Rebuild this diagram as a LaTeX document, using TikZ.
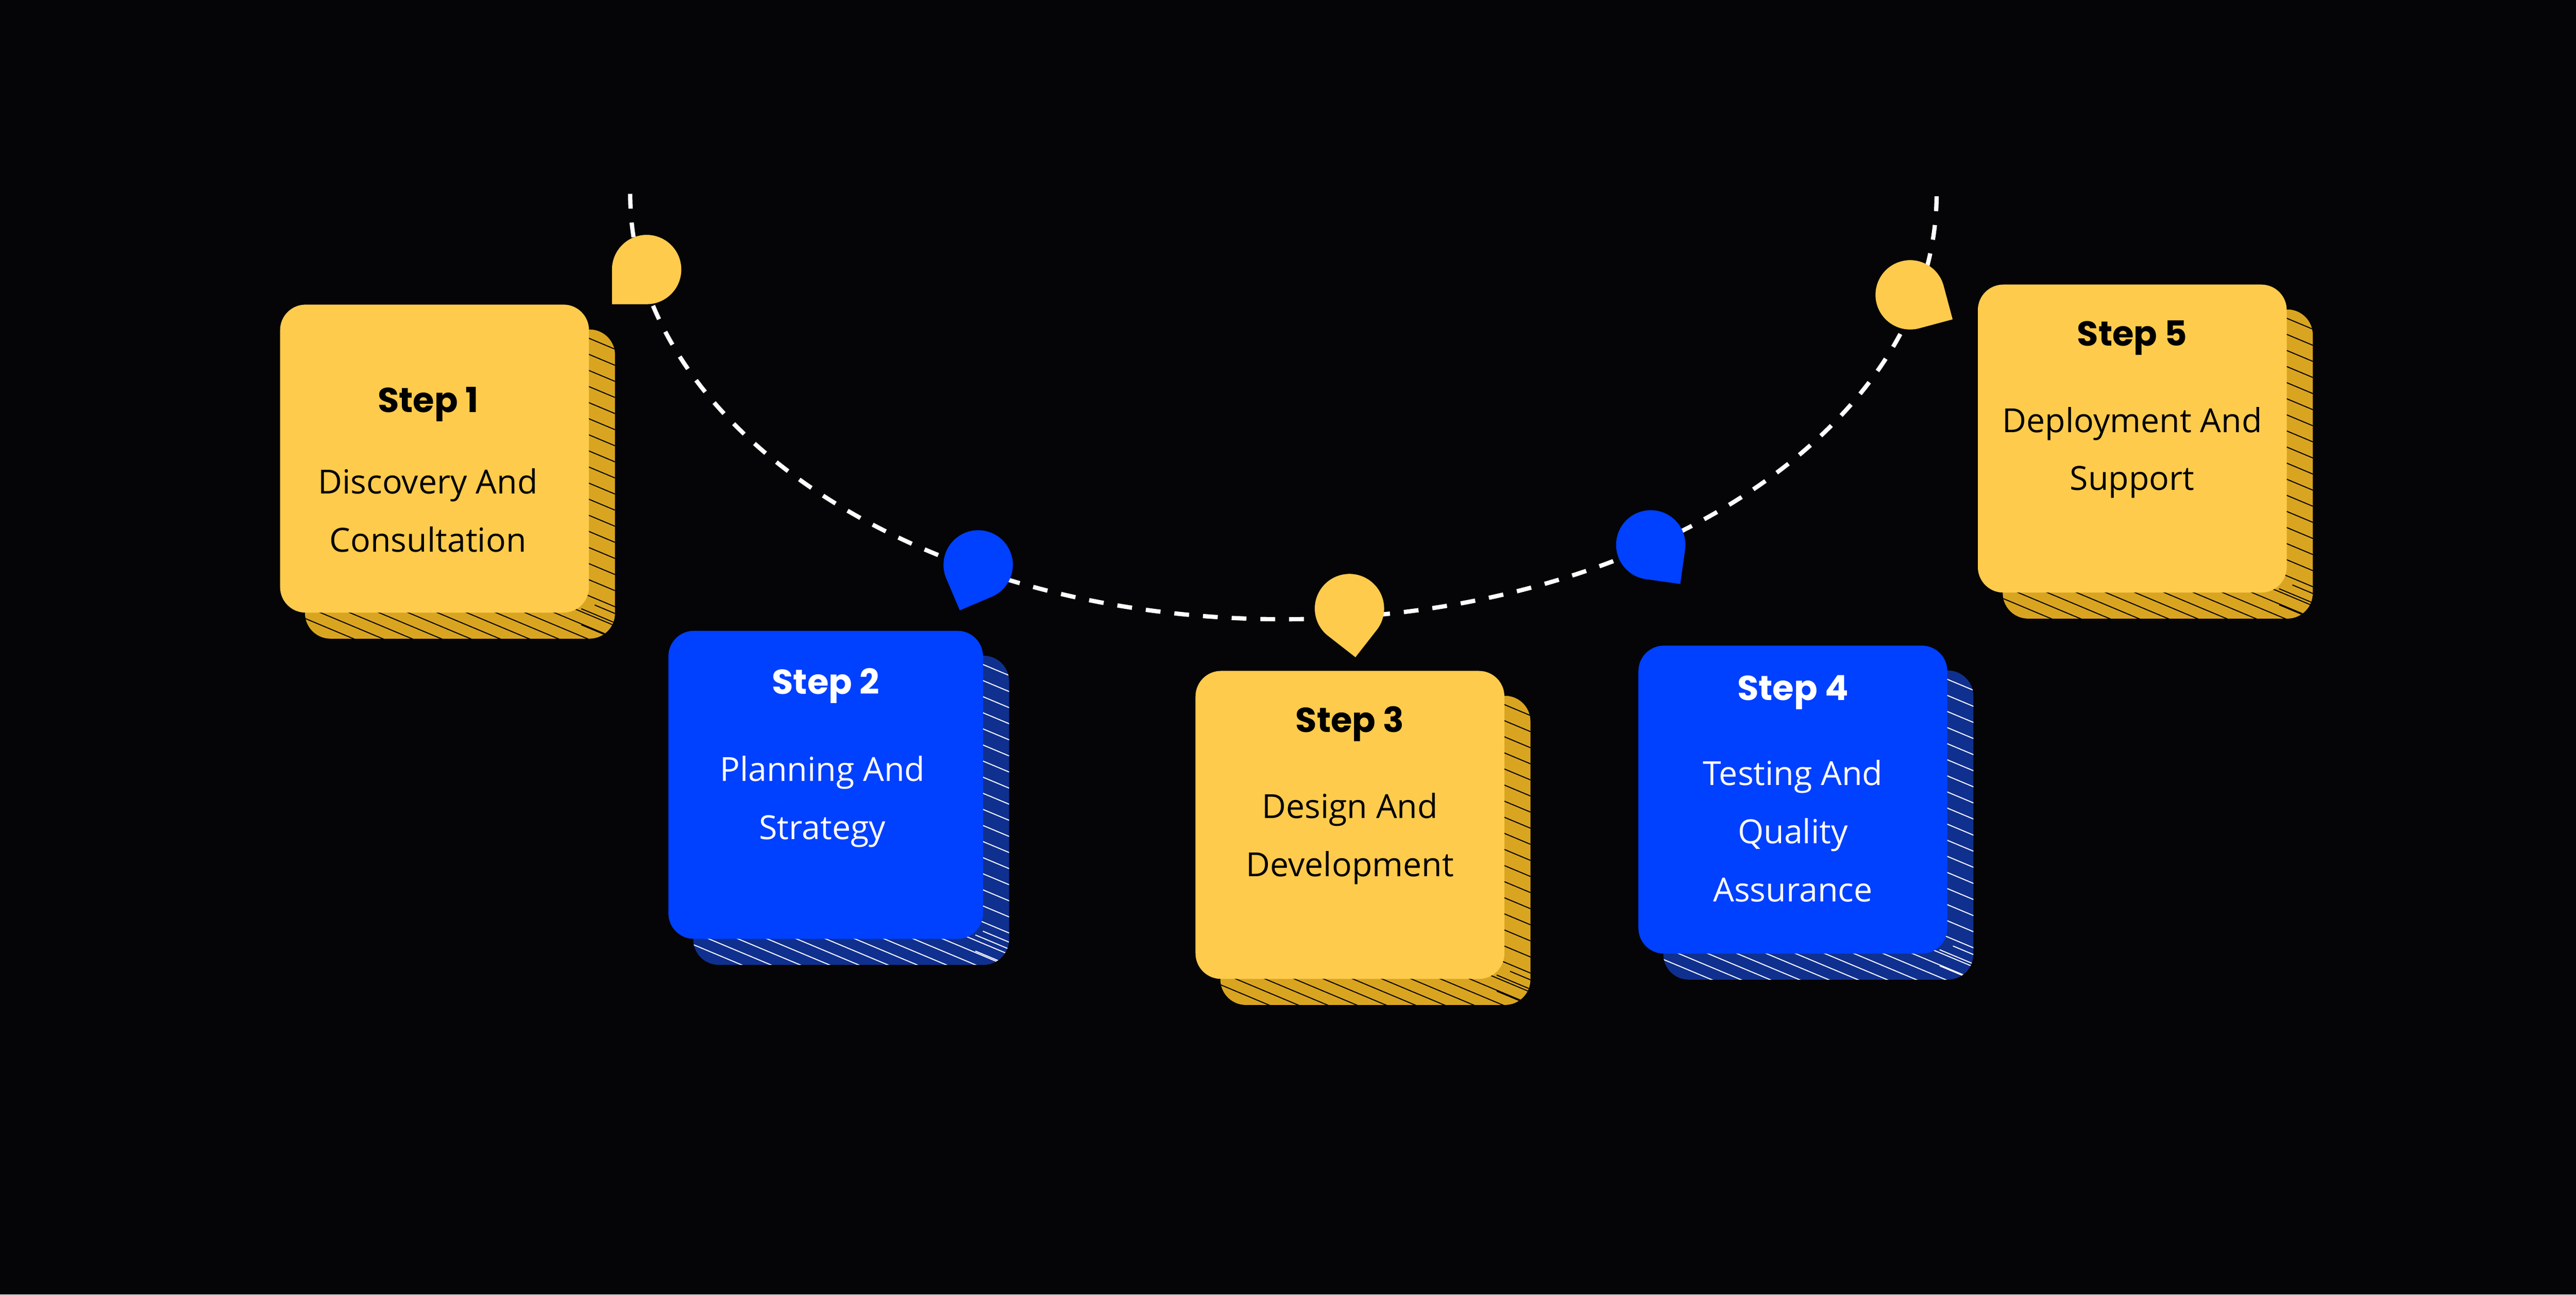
\documentclass[tikz,border=0pt]{standalone}
\usepackage{fontspec}
\setmainfont{Open Sans}
\newfontfamily\stepfont{Poppins}
\definecolor{bg}{HTML}{050507}
\definecolor{gold}{HTML}{FFCB4D}
\definecolor{golddark}{HTML}{D9A521}
\definecolor{royal}{HTML}{0040FF}
\definecolor{royaldark}{HTML}{10308F}
\pgfdeclarelayer{background}
\pgfsetlayers{background,main}

% hatched card behind a step card
\newcommand{\backcard}[3]{%
\begin{pgfonlayer}{background}
  \fill[#2,rounded corners=3.1mm] ([shift={(15.5,-15.5)}]#1.south west) rectangle ([shift={(15.5,-15.5)}]#1.north east);
  \begin{scope}
    \clip[rounded corners=3.1mm] ([shift={(15.5,-15.5)}]#1.south west) rectangle ([shift={(15.5,-15.5)}]#1.north east);
    \foreach \k in {0,...,20}
      \draw[#3,line width=0.35pt] ([shift={(-5,-21-9.8*\k+2.1)}]#1.north east) -- ++(26,-10.9);
    \foreach \k in {0,...,11}
      \draw[#3,line width=0.35pt] ([shift={(-4+17.8*\k,5)}]#1.south west) -- ++(52,-21.8);
  \end{scope}
\end{pgfonlayer}}

\begin{document}
\begin{tikzpicture}[x=0.2mm,y=0.2mm,
  card/.style={rectangle,rounded corners=3.1mm,fill=#1,minimum width=37.6mm,minimum height=37.5mm,inner sep=0pt},
  steptitle/.style={anchor=base,font=\stepfont\bfseries\fontsize{12}{14}\selectfont},
  stepbody/.style={anchor=base,align=center,font=\fontsize{11.5}{20.1}\selectfont},
  drop/.pic={\fill[#1] (0,-21.1) -- (-21.1,-21.1) -- (-21.1,0) arc[start angle=180,end angle=-90,radius=21.1] -- cycle;}]
  \begin{pgfonlayer}{background}
    \fill[bg] (0,0) rectangle (1568,788.2);
  \end{pgfonlayer}
  % dashed path
  \draw[white,line width=0.52mm,dash pattern=on 1.8mm off 1.7mm] (383.6,670.2) arc[start angle=180,end angle=360,x radius=397.6,y radius=259];
  % markers
  \pic[rotate=0] at (393.6,624.1) {drop=gold};
  \pic[rotate=23] at (595.4,444.3) {drop=royal};
  \pic[rotate=52] at (821.4,417.7) {drop=gold};
  \pic[rotate=82] at (1004.8,456.5) {drop=royal};
  \pic[rotate=105] at (1162.7,608.7) {drop=gold};
  % cards
  \node[card=gold] (c1) at (264.5,509) {};
  \node[card=royal,minimum width=38.3mm] (c2) at (502.6,310.4) {};
  \node[card=gold] (c3) at (821.7,286) {};
  \node[card=royal] (c4) at (1091.3,301.4) {};
  \node[card=gold] (c5) at (1297.9,521.2) {};
  \backcard{c1}{golddark}{black}
  \backcard{c2}{royaldark}{white}
  \backcard{c3}{golddark}{black}
  \backcard{c4}{royaldark}{white}
  \backcard{c5}{golddark}{black}
  % texts (body placed by its last line)
  \node[steptitle] (s1) at ([shift={(-4,-65.9)}]c1.north) {Step 1};
  \node[stepbody] (d1) at ([shift={(-4,-150.9)}]c1.north) {Discovery And\\Consultation};
  \node[steptitle,text=white] (s2) at ([shift={(0,-38.8)}]c2.north) {Step 2};
  \node[stepbody,text=white] (d2) at ([shift={(-2,-127.2)}]c2.north) {Planning And\\Strategy};
  \node[steptitle] (s3) at ([shift={(0,-37.7)}]c3.north) {Step 3};
  \node[stepbody] (d3) at ([shift={(0,-125.5)}]c3.north) {Design And\\Development};
  \node[steptitle,text=white] (s4) at ([shift={(0,-33.6)}]c4.north) {Step 4};
  \node[stepbody,text=white] (d4) at ([shift={(0,-156.1)}]c4.north) {Testing And\\Quality\\Assurance};
  \node[steptitle] (s5) at ([shift={(0,-37.6)}]c5.north) {Step 5};
  \node[stepbody] (d5) at ([shift={(0,-125.6)}]c5.north) {Deployment And\\Support};
\end{tikzpicture}
\end{document}
